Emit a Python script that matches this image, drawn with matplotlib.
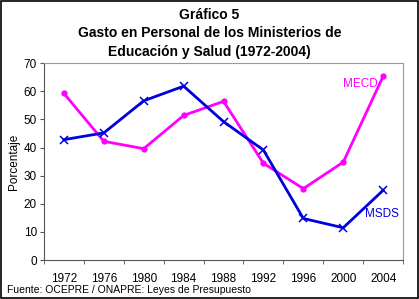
import matplotlib.pyplot as plt
import numpy as np

plt.rcParams['font.family'] = ['Liberation Sans', 'DejaVu Sans']

years = ['1972', '1976', '1980', '1984', '1988', '1992', '1996', '2000', '2004']
mecd = [59.2, 42.2, 39.6, 51.4, 56.4, 34.4, 25.4, 34.8, 65.3]
msds = [42.8, 45.2, 56.6, 61.8, 49.2, 39.1, 14.8, 11.5, 24.8]
yticks = [0, 10, 20, 30, 40, 50, 60, 70]

fig = plt.figure(figsize=(4.19, 2.99), dpi=100)
ax = fig.add_axes([0.105, 0.130, 0.857, 0.659])

x = np.arange(len(years))
ax.plot(x, mecd, color='#FF00FF', lw=2.0, marker='o', ms=3.5, zorder=3)
ax.plot(x, msds, color='#0000DD', lw=2.0, marker='x', ms=5.5, mew=1.1, zorder=4)

ax.set_xlim(-0.5, len(years) - 0.5)
ax.set_ylim(0, 70)
ax.set_yticks(yticks)
ax.set_xticks(x)
ax.set_xticklabels(years)
ax.set_xticks(np.arange(-0.5, len(years)), minor=True)
ax.tick_params(axis='x', which='major', length=0, pad=9, labelsize=8.5)
ax.tick_params(axis='x', which='minor', length=3, direction='out', color='#555555')
ax.tick_params(axis='y', length=3, labelsize=8.5, color='#555555', pad=2)
for side in ['top', 'right']:
    ax.spines[side].set_color('#999999')
for side in ['left', 'bottom']:
    ax.spines[side].set_color('#555555')
ax.set_ylabel('Porcentaje', fontsize=8.5, labelpad=3)

ax.text(7.0, 62.5, 'MECD', color='#FF00FF', fontsize=8.5, ha='left', va='center')
ax.text(7.55, 16.5, 'MSDS', color='#0000DD', fontsize=8.5, ha='left', va='center')

fig.text(0.50, 0.950, 'Gráfico 5', ha='center', va='center', fontsize=10, fontweight='bold')
fig.text(0.50, 0.889, 'Gasto en Personal de los Ministerios de', ha='center', va='center',
         fontsize=10, fontweight='bold')
fig.text(0.50, 0.827, 'Educación y Salud (1972-2004)', ha='center', va='center',
         fontsize=10, fontweight='bold')
fig.text(0.017, 0.03, 'Fuente: OCEPRE / ONAPRE: Leyes de Presupuesto', ha='left',
         va='center', fontsize=7.5)

border = plt.Rectangle((0.002, 0.002), 0.996, 0.996, transform=fig.transFigure,
                       fill=False, edgecolor='black', lw=1.2)
fig.patches.append(border)

fig.savefig('out.png', dpi=100)
